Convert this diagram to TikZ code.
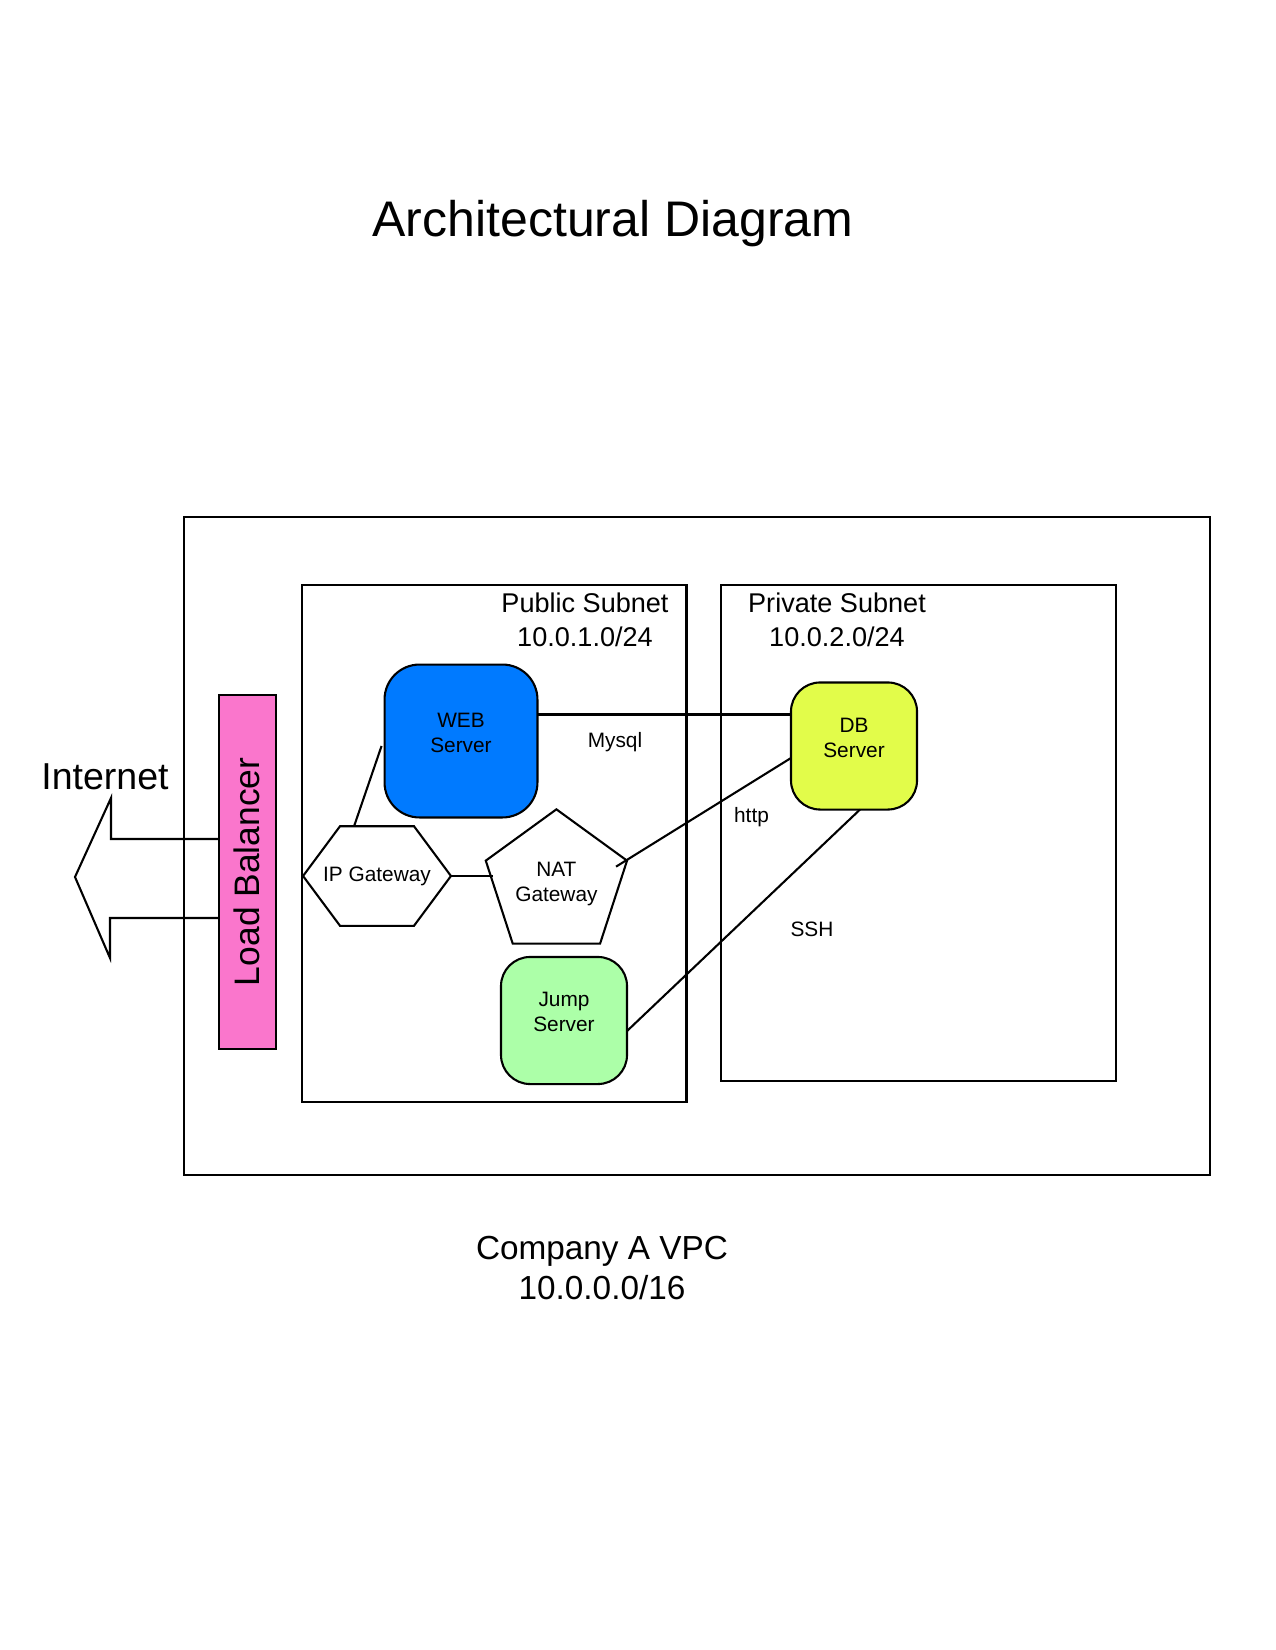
\documentclass[tikz,border=0pt]{standalone}
\usepackage{fontspec}
\setmainfont{Liberation Sans}
\usetikzlibrary{shapes.geometric,calc}

\definecolor{webblue}{RGB}{0,122,255}
\definecolor{dblime}{RGB}{226,252,74}
\definecolor{jumpgreen}{RGB}{172,255,168}
\definecolor{lbpink}{RGB}{250,118,204}

\begin{document}
\begin{tikzpicture}[x=0.48pt,y=-0.48pt,line width=1pt,
    server/.style={draw,rounded corners=14pt,minimum width=60.5pt,minimum height=61pt,inner sep=0pt,outer sep=0pt},
    srvtext/.style={align=center,yshift=4pt,font=\fontsize{10}{12}\selectfont},
    tag/.style={anchor=base,font=\fontsize{10}{12}\selectfont},
    subnetlbl/.style={align=center,font=\fontsize{13}{16.3}\selectfont}]
        \useasboundingbox (0,0) rectangle (1275,1650);
        %\draw[very thin,gray,step=50] (0,0) grid (1275,1650);
        \node[anchor=base,font=\fontsize{24}{28}\selectfont] (title) at (613,237) {Architectural Diagram};
        % boxes
        \draw (184,517) rectangle (1210,1175); % vpc
        \draw (302,585) rectangle (686.5,1101.7); % public
        \draw (721.4,585.4) rectangle (1116,1080.6); % private
        \node[subnetlbl] (publbl) at (585,620) {Public Subnet\\10.0.1.0/24};
        \node[subnetlbl] (privlbl) at (837,620) {Private Subnet\\10.0.2.0/24};
        \node[align=center,font=\fontsize{16}{19.2}\selectfont] (vpclbl) at (602,1268) {Company A VPC\\10.0.0.0/16};
        % load balancer and internet
        \node[draw,fill=lbpink,minimum width=27.4pt,minimum height=170pt,inner sep=0pt,outer sep=0pt,
          label={[rotate=90,font=\fontsize{17}{20}\selectfont]center:Load Balancer}] (lb) at (247.3,871.8) {};
        \node[anchor=base,font=\fontsize{18}{21}\selectfont] (inet) at (105,789) {Internet};
        \coordinate (shafttop) at (111,839);
        \coordinate (shaftbot) at (110,918);
        \draw (lb.west |- shafttop) -- (shafttop) -- (111,798) -- (75,877) -- (110,958)
          -- (shaftbot) -- (lb.west |- shaftbot);
        % servers
        \node[server,fill=webblue,rounded corners=16.8pt,minimum width=73.4pt,minimum height=73.4pt,
          label={[srvtext]center:{WEB\\Server}}] (web) at (461,741) {};
        \node[server,fill=dblime,label={[srvtext]center:{DB\\Server}}] (db) at (854,746) {};
        \node[server,fill=jumpgreen,label={[srvtext]center:{Jump\\Server}}] (jump) at (564,1020.5) {};
        % gateways
        \node[minimum width=71pt,minimum height=47.8pt,inner sep=0pt,outer sep=0pt,
          font=\fontsize{10}{12}\selectfont] (ipgw) at (377,876) {IP Gateway};
        \draw (ipgw.west) -- ($(ipgw.north west)!0.25!(ipgw.north east)$)
          -- ($(ipgw.north west)!0.75!(ipgw.north east)$) -- (ipgw.east)
          -- ($(ipgw.south west)!0.75!(ipgw.south east)$)
          -- ($(ipgw.south west)!0.25!(ipgw.south east)$) -- cycle;
        \node[draw,regular polygon,regular polygon sides=5,minimum size=71.3pt,inner sep=0pt,outer sep=0pt,
          align=center,font=\fontsize{10}{12}\selectfont] (nat) at (556.4,883.6) {NAT\\Gateway};
        % links
        \draw ($(ipgw.north west)!0.345!(ipgw.north east)$) -- ($(web.west)+(-3,5)$);
        \draw (ipgw.east) -- (ipgw.east -| nat.west);
        \draw ($(web.east)+(0,-26.5)$) -- ($(db.west)+(0,-31.5)$);
        \draw ($(nat.corner 5)+(-11,6)$) -- ($(db.west)+(0,12)$);
        \draw ($(db.south)+(6,0)$) -- ($(jump.east)+(0,10.5)$);
        \node[tag] (mysql) at (615,747) {Mysql};
        \node[tag] (http) at (751.5,822) {http};
        \node[tag] (ssh) at (812,936) {SSH};
\end{tikzpicture}
\end{document}
